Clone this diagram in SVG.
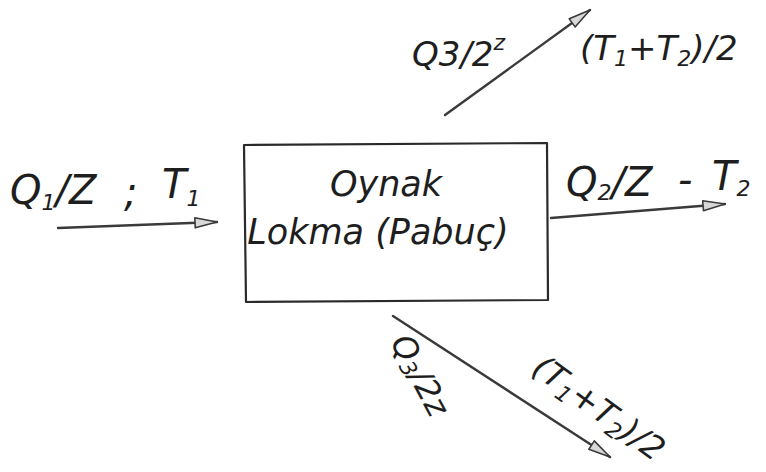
<svg xmlns="http://www.w3.org/2000/svg" width="766" height="472" viewBox="0 0 766 472">
  <style>
    .hand { font-family: "DejaVu Sans", "Liberation Sans", sans-serif; font-style: italic; fill: #1e1e1e; }
    .lbl { font-size: 40px; }
    .sm { font-size: 34px; }
    .box-txt { font-size: 35px; }
    .sub { font-size: 22px; }
    .edge { fill: none; stroke: #3a3a3a; stroke-width: 2.4; stroke-linecap: round; }
  </style>
  <defs>
    <marker id="head" viewBox="0 0 24 12" refX="23" refY="6" markerWidth="24" markerHeight="12" markerUnits="userSpaceOnUse" orient="auto">
      <path d="M1,1 L23,6 L1,11 Z" fill="#d8d8d8" stroke="#3a3a3a" stroke-width="1.6" stroke-linejoin="round"/>
    </marker>
  </defs>
  <rect width="766" height="472" fill="#ffffff"/>

  <!-- central block -->
  <g id="lokma">
    <path d="M244,145 L547,143 L548,300 L246,302 Z" fill="none" stroke="#2a2a2a" stroke-width="2.2" stroke-linejoin="round"/>
    <text class="hand box-txt" x="386" y="196" text-anchor="middle">Oynak</text>
    <text class="hand box-txt" x="378" y="244" text-anchor="middle">Lokma (Pabuç)</text>
  </g>

  <!-- flow connectors -->
  <g id="connectors">
    <path class="edge" d="M58,228 L217,222" marker-end="url(#head)"/>
    <path class="edge" d="M551,218 L725,204" marker-end="url(#head)"/>
    <path class="edge" d="M445,115 L590,10" marker-end="url(#head)"/>
    <path class="edge" d="M393,316 L610,457" marker-end="url(#head)"/>
  </g>

  <!-- inlet: Q1/Z ; T1 -->
  <g id="inlet">
    <text class="hand lbl" x="10" y="204">Q<tspan class="sub" dy="6">1</tspan><tspan dy="-6">/Z</tspan></text>
    <text class="hand lbl" x="124" y="206">;</text>
    <text class="hand lbl" x="162" y="198">T<tspan class="sub" dy="8">1</tspan></text>
  </g>

  <!-- outlet: Q2/Z - T2 -->
  <g id="outlet">
    <text class="hand lbl" x="566" y="196">Q<tspan class="sub" dy="4">2</tspan><tspan dy="-4">/Z</tspan></text>
    <text class="hand lbl" x="678" y="194">-</text>
    <text class="hand lbl" x="712" y="190">T<tspan class="sub" dy="6">2</tspan></text>
  </g>

  <!-- upper leakage: Q3/2z, (T1+T2)/2 -->
  <g id="leak-up">
    <text class="hand sm" x="412" y="66">Q3/2<tspan class="sub" dy="-16">z</tspan></text>
    <text class="hand sm" x="580" y="60">(T<tspan class="sub" dy="6">1</tspan><tspan dy="-6">+T</tspan><tspan class="sub" dy="6">2</tspan><tspan dy="-6">)/2</tspan></text>
  </g>

  <!-- lower leakage: Q3/2z, (T1+T2)/2 -->
  <g id="leak-down">
    <text class="hand" font-size="32" transform="translate(390,342) rotate(62)">Q<tspan class="sub" dy="4">3</tspan><tspan dy="-4">/2z</tspan></text>
    <text class="hand" font-size="33" transform="translate(530,372) rotate(36)">(T<tspan class="sub" dy="6">1</tspan><tspan dy="-6">+T</tspan><tspan class="sub" dy="6">2</tspan><tspan dy="-6">)/2</tspan></text>
  </g>
</svg>
